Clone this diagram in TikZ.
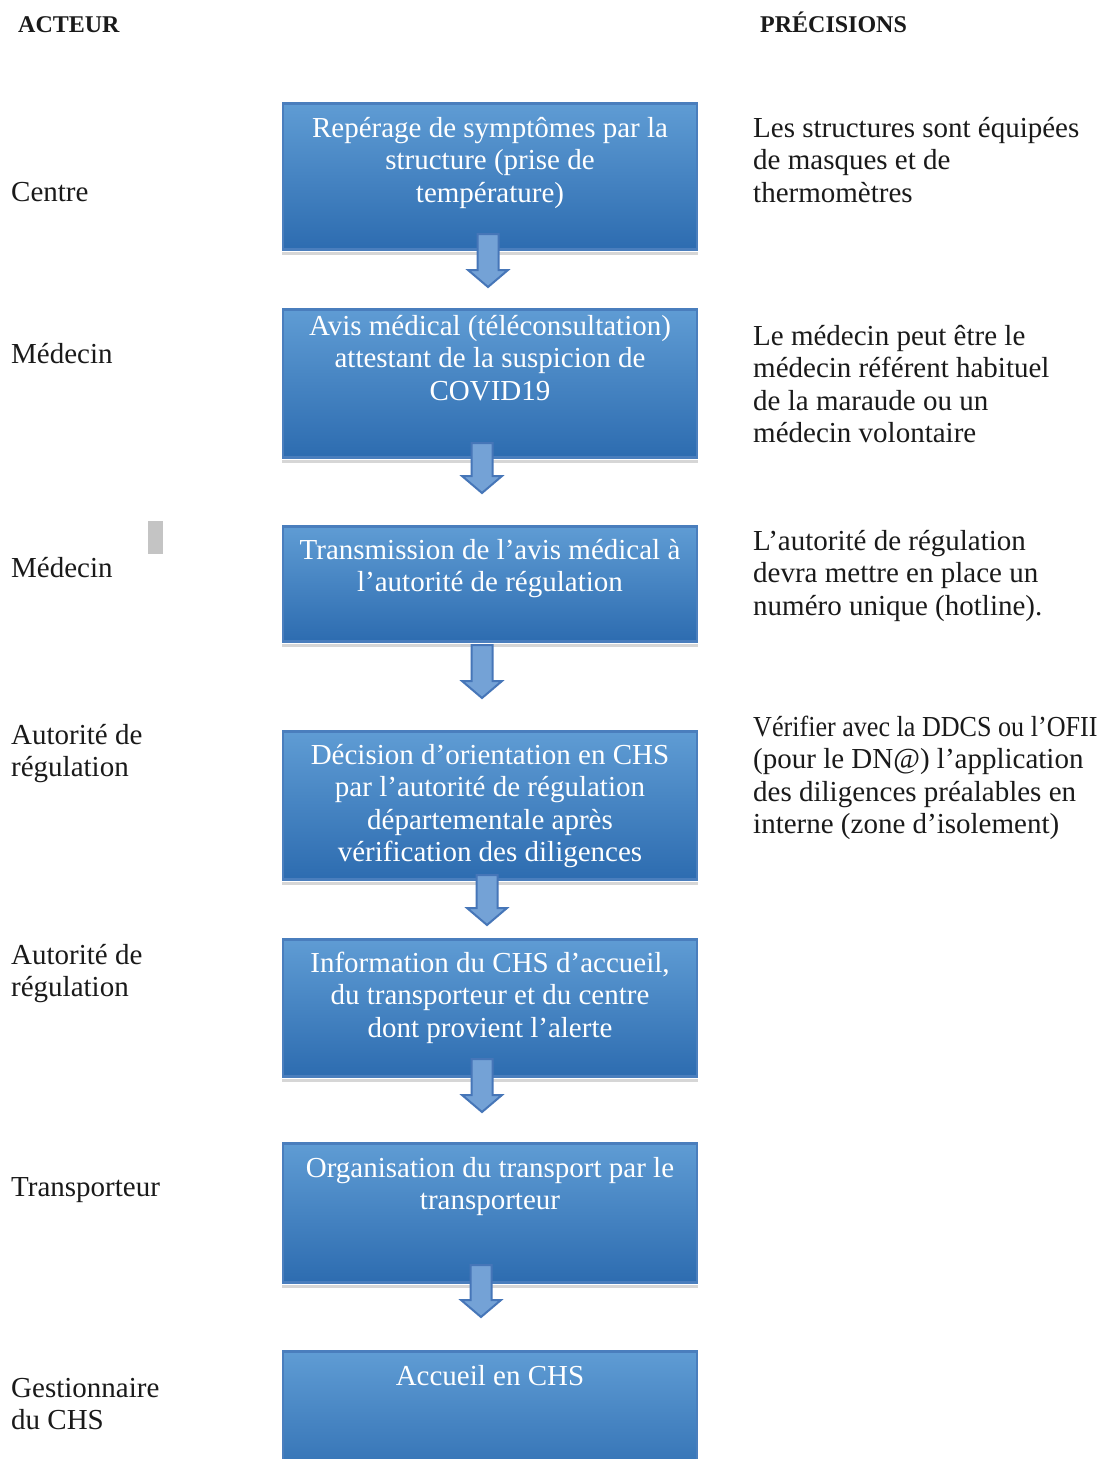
\documentclass[tikz,border=0pt]{standalone}
\usepackage{fontspec}
\setmainfont{Liberation Serif}
\usetikzlibrary{calc}
\definecolor{boxtop}{HTML}{5F9CD4}
\definecolor{boxbot}{HTML}{2D6CB0}
\definecolor{boxline}{HTML}{4A7EBD}
\definecolor{arrfill}{HTML}{74A2D6}
\definecolor{arrline}{HTML}{4676B8}
\definecolor{shadowgray}{HTML}{D6D6D6}
\definecolor{markgray}{HTML}{C4C4C4}
\definecolor{ink}{HTML}{1A1A1A}
\newcommand\tstrut{\rule{0pt}{22.75pt}}
\newcommand\blockarrow[2]{\draw[barrow] ($(#1)+(-10.5,0)$) -- ($(#2)+(-10.5,-17)$) -- ($(#2)+(-20,-17)$) -- (#2) -- ($(#2)+(20,-17)$) -- ($(#2)+(10.5,-17)$) -- ($(#1)+(10.5,0)$) -- cycle;}
\newcommand\boxshadow[1]{\fill[shadowgray] ($(#1.south west)+(0,1)$) rectangle ($(#1.south east)+(0,4)$);}
\begin{document}
\begin{tikzpicture}[x=1pt,y=-1pt,
  flowbox/.style={draw=boxline, line width=2.5pt, top color=boxtop, bottom color=boxbot, minimum width=414pt, anchor=north, inner sep=0pt},
  btxt/.style={text=white, align=center, anchor=north, inner sep=0pt, font=\fontsize{29}{32.5}\selectfont},
  ltxt/.style={text=ink, align=left, anchor=north west, inner sep=0pt, font=\fontsize{29}{32.5}\selectfont},
  headtxt/.style={text=ink, anchor=base west, inner sep=0pt, font=\bfseries\fontsize{24}{28}\selectfont},
  barrow/.style={draw=arrline, fill=arrfill, line width=2pt, line join=miter}
]
\clip (0,0) rectangle (1114,1459);
\fill[white] (0,0) rectangle (1114,1459);

% headers
\node[headtxt] (hA) at (18,32) {ACTEUR};
\node[headtxt] (hP) at (760,32) {PRÉCISIONS};

% boxes
\node[flowbox, minimum height=146pt] (b1) at (490,102) {};
\node[flowbox, minimum height=148pt] (b2) at (490,308) {};
\node[flowbox, minimum height=115pt] (b3) at (490,525) {};
\node[flowbox, minimum height=148pt] (b4) at (490,730) {};
\node[flowbox, minimum height=137pt] (b5) at (490,938) {};
\node[flowbox, minimum height=139pt] (b6) at (490,1142) {};
\node[flowbox, minimum height=140pt] (b7) at (490,1350) {};
\boxshadow{b1}
\boxshadow{b2}
\boxshadow{b3}
\boxshadow{b4}
\boxshadow{b5}
\boxshadow{b6}

% box texts
\node[btxt] (t1) at (490,114.25) {\tstrut Repérage de symptômes par la\\structure (prise de\\température)};
\node[btxt] (t2) at (490,312.25) {\tstrut Avis médical (téléconsultation)\\attestant de la suspicion de\\COVID19};
\node[btxt] (t3) at (490,536.25) {\tstrut Transmission de l’avis médical à\\l’autorité de régulation};
\node[btxt] (t4) at (490,741.25) {\tstrut Décision d’orientation en CHS\\par l’autorité de régulation\\départementale après\\vérification des diligences};
\node[btxt] (t5) at (490,949.25) {\tstrut Information du CHS d’accueil,\\du transporteur et du centre\\dont provient l’alerte};
\node[btxt] (t6) at (490,1154.25) {\tstrut Organisation du transport par le\\transporteur};
\node[btxt] (t7) at (490,1362.25) {\tstrut Accueil en CHS};

% arrows
\coordinate (a1s) at (488,234);  \coordinate (a1e) at (488,287);
\coordinate (a2s) at (482,443);  \coordinate (a2e) at (482,493);
\coordinate (a3s) at (482,645);  \coordinate (a3e) at (482,698);
\coordinate (a4s) at (487,875);  \coordinate (a4e) at (487,925);
\coordinate (a5s) at (482,1059); \coordinate (a5e) at (482,1112);
\coordinate (a6s) at (481,1265); \coordinate (a6e) at (481,1317);
\blockarrow{a1s}{a1e}
\blockarrow{a2s}{a2e}
\blockarrow{a3s}{a3e}
\blockarrow{a4s}{a4e}
\blockarrow{a5s}{a5e}
\blockarrow{a6s}{a6e}

% actors
\node[ltxt] (l1) at (11,178.25) {\tstrut Centre};
\node[ltxt] (l2) at (11,340.25) {\tstrut Médecin};
\node[ltxt] (l3) at (11,554.25) {\tstrut Médecin};
\node[ltxt] (l4) at (11,721.25) {\tstrut Autorité de\\régulation};
\node[ltxt] (l5) at (11,941.25) {\tstrut Autorité de\\régulation};
\node[ltxt] (l6) at (11,1173.25) {\tstrut Transporteur};
\node[ltxt] (l7) at (11,1374.25) {\tstrut Gestionnaire\\du CHS};

% grey mark
\node[fill=markgray, minimum width=15pt, minimum height=33pt, inner sep=0pt] (mark) at (155.5,537.5) {};

% precisions
\node[ltxt] (r1) at (753,114.25) {\tstrut Les structures sont équipées\\de masques et de\\thermomètres};
\node[ltxt] (r2) at (753,322.25) {\tstrut Le médecin peut être le\\médecin référent habituel\\de la maraude ou un\\médecin volontaire};
\node[ltxt] (r3) at (753,527.25) {\tstrut L’autorité de régulation\\devra mettre en place un\\numéro unique (hotline).};
\node[ltxt] (r4) at (753,713.25) {\tstrut \scalebox{0.9}[1]{Vérifier avec la DDCS ou l’OFII}\\(pour le DN@) l’application\\des diligences préalables en\\interne (zone d’isolement)};
\end{tikzpicture}
\end{document}
